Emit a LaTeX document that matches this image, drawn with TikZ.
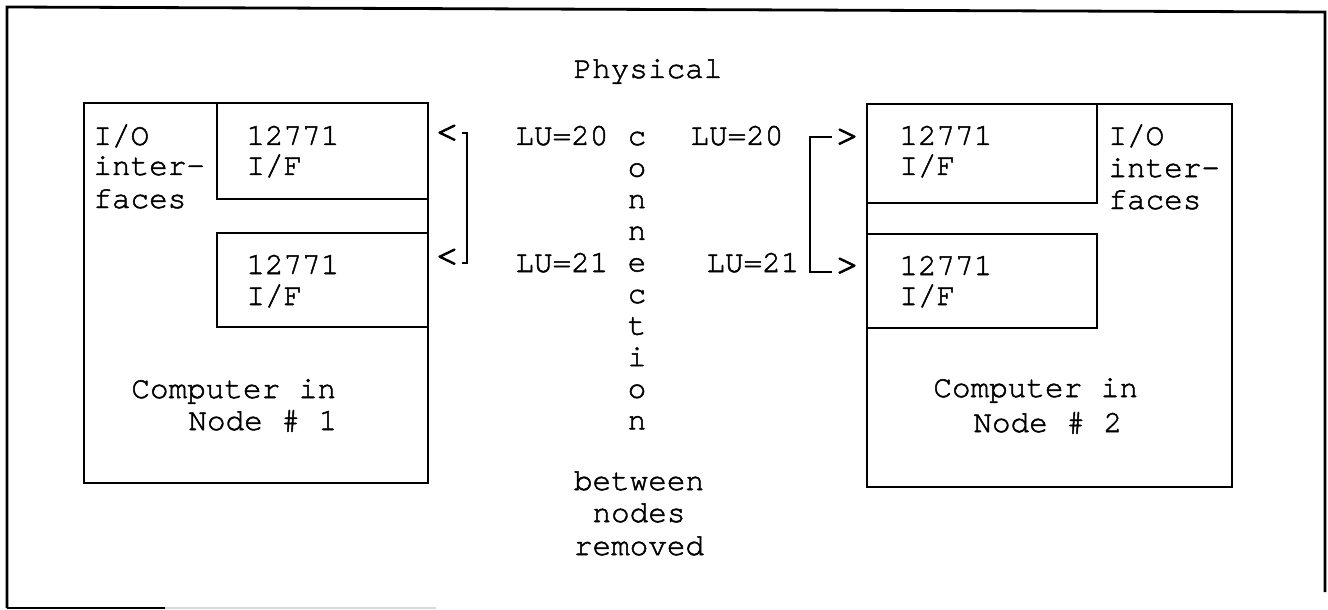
\documentclass[tikz,border=0pt]{standalone}
\usepackage{fontspec}
\setmonofont{texgyrecursor-regular.otf}[FakeBold=1.6]
\begin{document}
\begin{tikzpicture}[x=0.5pt,y=-0.5pt,
  txt/.style={font=\ttfamily\fontsize{15.5}{18}\selectfont, inner sep=0pt, anchor=base west},
  ctxt/.style={txt, anchor=base},
  tip/.style={font=\ttfamily\fontsize{21}{24}\selectfont, inner sep=0pt, anchor=center},
  boxline/.style={draw, line width=1.4pt},
  wire/.style={draw, line width=1.4pt}]
\useasboundingbox (0,0) rectangle (1328,610);
% outer frame (as scanned)
\draw[line width=1.4pt] (7,608) -- (7,7) -- (1325,12) -- (1325,592);
\draw[line width=1.4pt] (7,608) -- (165,608);
\draw[line width=1.0pt, black!15] (165,608) -- (436,608);

% left computer
\draw[boxline] (84,103) rectangle (428,483);
\draw[boxline] (217,103) rectangle (428,199);
\draw[boxline] (217,233) rectangle (428,327);
% right computer
\draw[boxline] (867,104) rectangle (1232,487);
\draw[boxline] (867,104) rectangle (1097,203);
\draw[boxline] (867,234) rectangle (1097,328);

% title
\node[ctxt] (phys) at (648,78) {Physical};

% left texts
\node[txt] (lio1) at (93,145) {I/O};
\node[txt] (lio2) at (93,175) {inter-};
\node[txt] (lio3) at (93,208) {faces};
\node[txt] (lif1a) at (246,145) {12771};
\node[txt] (lif1b) at (246,175) {I/F};
\node[txt] (lif2a) at (246,274) {12771};
\node[txt] (lif2b) at (246,305) {I/F};
\node[txt] (lcomp) at (131,398) {Computer in};
\node[txt] (lnode) at (188,430) {Node \# 1};

% right texts
\node[txt] (rif1a) at (899,145) {12771};
\node[txt] (rif1b) at (899,175) {I/F};
\node[txt] (rif2a) at (899,275) {12771};
\node[txt] (rif2b) at (899,305) {I/F};
\node[txt] (rio1) at (1108,145) {I/O};
\node[txt] (rio2) at (1108,177) {inter-};
\node[txt] (rio3) at (1108,209) {faces};
\node[txt] (rcomp) at (933,397) {Computer in};
\node[txt] (rnode) at (973,432) {Node \# 2};

% LU labels
\node[txt] (llu20) at (515,145) {LU=20};
\node[txt] (llu21) at (515,272) {LU=21};
\node[txt] (rlu20) at (690,145) {LU=20};
\node[txt] (rlu21) at (706,272) {LU=21};

% vertical "connection"
\foreach \l [count=\i from 0] in {c,o,n,n,e,c,t,i,o,n}
  \node[ctxt] (conn\i) at (637,{145+31.6*\i}) {\l};

% between nodes removed
\node[ctxt] (bet) at (639,490) {between};
\node[ctxt] (nod) at (639,522) {nodes};
\node[ctxt] (rem) at (639,555) {removed};

% arrow heads as printed
\node[tip] (lta) at (447,134) {<};
\node[tip] (ltb) at (447,258) {<};
\node[tip] (rta) at (847,138) {>};
\node[tip] (rtb) at (847,267) {>};

% bracket connectors
\coordinate (ls1) at (467,133);
\coordinate (ls2) at (467,263);
\draw[wire] ([xshift=1pt]lta.east |- ls1) -- (ls1) -- (ls2) -- ([xshift=1pt]ltb.east |- ls2);
\coordinate (rs1) at (810,137);
\coordinate (rs2) at (810,272);
\draw[wire] ([xshift=-1pt]rta.west |- rs1) -- (rs1) -- (rs2) -- ([xshift=-1pt]rtb.west |- rs2);
\end{tikzpicture}
\end{document}
